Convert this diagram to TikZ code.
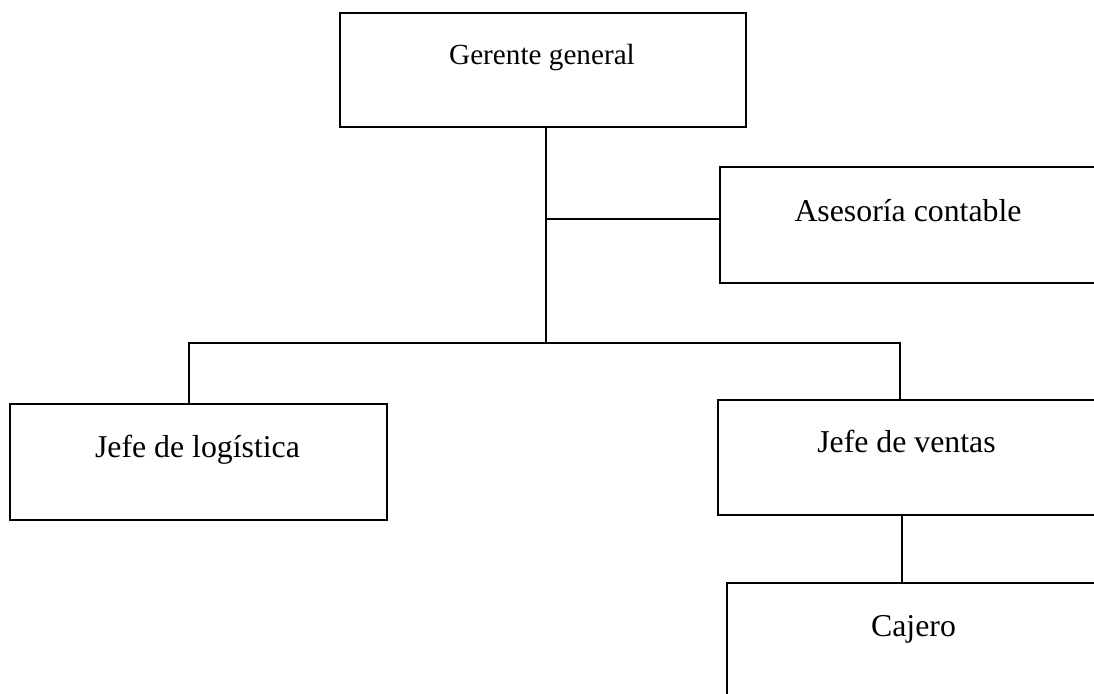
\documentclass[tikz,border=0pt]{standalone}
\usepackage{fontspec}
\setmainfont{Liberation Serif}
\begin{document}
\begin{tikzpicture}[x=0.5pt,y=-0.5pt,
  box/.style={draw=black,line width=1pt,inner sep=0pt,fill=none},
  lbl/.style={anchor=base,inner sep=0pt,font=\fontsize{15.9}{18}\selectfont},
  conn/.style={draw=black,line width=1pt}]
\useasboundingbox (0,0) rectangle (1094,694);
\clip (0,0) rectangle (1094,694);
% boxes
\node[box,minimum width=203pt,minimum height=57.2pt] (gg) at (543,69.8) {};
\node[box,minimum width=188pt,minimum height=58pt] (ac) at (908,225) {};
\node[box,minimum width=188.5pt,minimum height=58pt] (jl) at (198.5,462) {};
\node[box,minimum width=188.5pt,minimum height=57.5pt] (jv) at (906.5,457.5) {};
\node[box,minimum width=186.5pt,minimum height=58pt] (cj) at (913.5,641) {};
% labels
\node[lbl,font=\fontsize{14.6}{17}\selectfont] (tgg) at (542,65) {Gerente general};
\node[lbl] (tac) at (908,222) {Asesoría contable};
\node[lbl] (tjl) at (197.5,458) {Jefe de logística};
\node[lbl] (tjv) at (906.5,453) {Jefe de ventas};
\node[lbl] (tcj) at (913.5,637) {Cajero};
% junctions
\coordinate (j1) at (546,219);
\coordinate (j2) at (546,343);
\coordinate (bL) at (189,343);
\coordinate (bR) at (900,343);
\coordinate (cv) at (902,550);
% connectors
\draw[conn] (j2 |- gg.south) -- (j2);
\draw[conn] (j1) -- (j1 -| ac.west);
\draw[conn] (bL |- jl.north) -- (bL) -- (bR) -- (bR |- jv.north);
\draw[conn] (cv |- jv.south) -- (cv |- cj.north);
\end{tikzpicture}
\end{document}
